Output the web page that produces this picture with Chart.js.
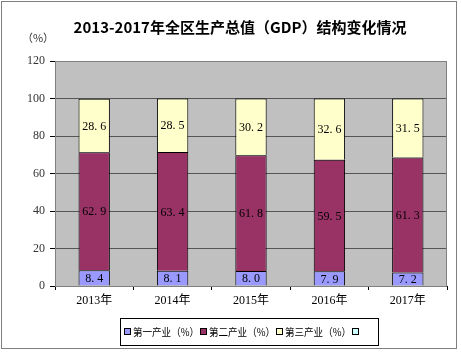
<!DOCTYPE html>
<html>
<head>
<meta charset="utf-8">
<script src="https://cdn.jsdelivr.net/npm/chart.js@4/dist/chart.umd.min.js"></script>
<style>
  html, body { margin: 0; padding: 0; background: #fff; }
  #wrap { width: 461px; height: 352px; position: relative; }
</style>
</head>
<body>
<div id="wrap"><canvas id="mychart" width="461" height="352"></canvas></div>
<script>
var years = ['2013年', '2014年', '2015年', '2016年', '2017年'];
var primary = [8.4, 8.1, 8.0, 7.9, 7.2];
var secondary = [62.9, 63.4, 61.8, 59.5, 61.3];
var tertiary = [28.6, 28.5, 30.2, 32.6, 31.5];
var seriesNames = ['第一产业（%）', '第二产业（%）', '第三产业（%）', ''];
var yTicks = [0, 20, 40, 60, 80, 100, 120];
var chartTitle = '2013-2017年全区生产总值（GDP）结构变化情况';
var unitLabel = '（%）';

var colors = ['#9999ff', '#993366', '#ffffcc', '#ccffff'];
var serif = '"Liberation Serif", "DejaVu Serif", "Noto Sans CJK SC", serif';

// background, frame, title, legend and value labels
var decor = {
  id: 'decor',
  beforeDraw: function (chart) {
    var c = chart.ctx, a = chart.chartArea;
    c.save();
    c.fillStyle = '#ffffff';
    c.fillRect(0, 0, chart.width, chart.height);
    c.fillStyle = '#c0c0c0';
    c.fillRect(a.left, a.top, a.right - a.left, a.bottom - a.top);
    c.restore();
  },
  afterDraw: function (chart) {
    var c = chart.ctx, a = chart.chartArea;
    c.save();
    // plot frame
    c.strokeStyle = '#808080';
    c.lineWidth = 1;
    c.strokeRect(a.left + 0.5, a.top + 0.5, a.right - a.left - 1, a.bottom - a.top);
    // outer frame
    c.strokeStyle = '#7f7f7f';
    c.strokeRect(1.5, 1.5, 455, 347);

    // title
    c.fillStyle = '#000';
    c.font = 'bold 15px "Noto Sans CJK SC", ' + serif;
    c.textAlign = 'center';
    c.textBaseline = 'middle';
    c.fillText(chartTitle, 240, 27);
    c.font = '11px "Noto Sans CJK SC", sans-serif';
    c.fillStyle = '#333';
    c.fillText(unitLabel, 38, 38);

    // value labels
    c.font = '12px ' + serif;
    c.fillStyle = '#000';
    chart.data.datasets.forEach(function (ds, i) {
      var meta = chart.getDatasetMeta(i);
      meta.data.forEach(function (bar, j) {
        var v = ds.data[j];
        if (v == null) return;
        var y = (bar.y + bar.base) / 2;
        c.fillText(v.toFixed(1).replace('.', '. '), bar.x, y + 1);
      });
    });

    // legend
    var lx = 120, ly = 318, lw = 258, lh = 27;
    c.strokeStyle = '#000';
    c.strokeRect(lx + 0.5, ly + 0.5, lw, lh);
    c.font = '10.5px "Noto Sans CJK SC", sans-serif';
    c.textAlign = 'left';
    var x = lx + 4;
    seriesNames.forEach(function (name, i) {
      c.fillStyle = colors[i];
      c.fillRect(x, ly + 10, 7, 7);
      c.strokeStyle = '#000';
      c.strokeRect(x + 0.5, ly + 10.5, 6, 6);
      c.fillStyle = '#000';
      if (name) c.fillText(name, x + 9, ly + 14, 66);
      x += 76;
    });
    c.restore();
  }
};

var ctx = document.getElementById('mychart');
var myChart = new Chart(ctx, {
  type: 'bar',
  data: {
    labels: years,
    datasets: [
      { label: seriesNames[0], data: primary, backgroundColor: colors[0], borderColor: '#000', borderWidth: 1, barPercentage: 0.4, categoryPercentage: 1 },
      { label: seriesNames[1], data: secondary, backgroundColor: colors[1], borderColor: '#000', borderWidth: 1, barPercentage: 0.4, categoryPercentage: 1 },
      { label: seriesNames[2], data: tertiary, backgroundColor: colors[2], borderColor: '#000', borderWidth: 1, barPercentage: 0.4, categoryPercentage: 1 }
    ]
  },
  options: {
    responsive: false,
    animation: false,
    layout: { padding: { left: 0, right: 14, top: 61, bottom: 0 } },
    plugins: { legend: { display: false }, title: { display: false }, tooltip: { enabled: false } },
    scales: {
      x: {
        stacked: true,
        grid: { offset: true, drawOnChartArea: false, color: '#000', tickLength: 4 },
        border: { color: '#000' },
        ticks: { color: '#000', font: { size: 12, family: serif }, padding: 4 },
        afterFit: function (s) { s.height = 352 - 286; }
      },
      y: {
        stacked: true,
        min: 0,
        max: 120,
        afterBuildTicks: function (s) { s.ticks = yTicks.map(function (v) { return { value: v }; }); },
        grid: { color: '#555', tickLength: 5, tickColor: '#000' },
        border: { color: '#000' },
        ticks: { color: '#333', font: { size: 12, family: serif }, padding: 5 },
        afterFit: function (s) { s.width = 55; }
      }
    }
  },
  plugins: [decor]
});
</script>
</body>
</html>
